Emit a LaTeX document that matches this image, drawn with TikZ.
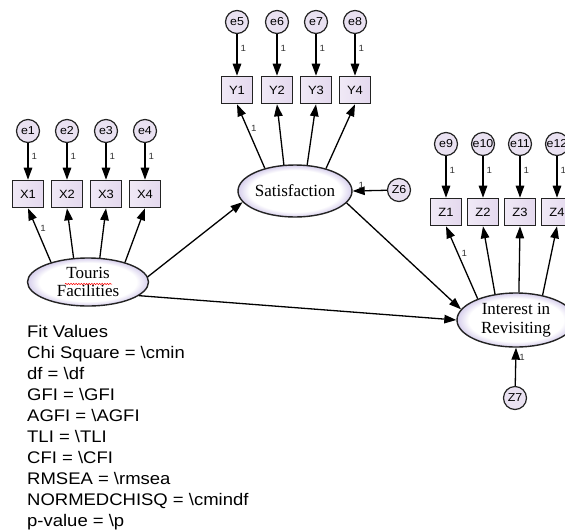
\documentclass[tikz,border=0pt]{standalone}
\usepackage{fontspec}
\setmainfont{Liberation Serif}
\newfontfamily\sansf[FakeStretch=1.08]{Liberation Sans}
\newfontfamily\fitf[FakeStretch=1.1]{Liberation Sans}
\usetikzlibrary{arrows.meta,shapes.geometric,decorations.pathmorphing}
\definecolor{lav}{RGB}{228,217,238}
\definecolor{lavlight}{RGB}{240,233,246}
\definecolor{rim}{RGB}{214,206,236}
\definecolor{bord}{RGB}{35,35,35}
\pgfdeclareradialshading{rimshade}{\pgfpoint{0bp}{0bp}}{color(0bp)=(white); color(20bp)=(white); color(25bp)=(rim); color(50bp)=(rim)}
\tikzset{
  obs/.style={draw=bord, line width=1.6pt, minimum width=31pt, minimum height=27pt, inner sep=0pt,
    left color=lavlight, right color=lav, font=\sansf\fontsize{12}{12}\selectfont},
  err/.style={circle, draw=bord, line width=1.2pt, minimum size=23pt, inner sep=0pt,
    fill=lav!80!white, font=\sansf\fontsize{11.5}{12}\selectfont},
  lat/.style={ellipse, draw=bord, line width=1.4pt, inner sep=0pt, shading=rimshade,
    align=center, font=\fontsize{17}{18.5}\selectfont},
  arr/.style={-{Triangle[length=12pt,width=8.5pt]}, line width=1.3pt},
  one/.style={font=\sansf\fontsize{9}{9}\selectfont, inner sep=0pt, text=black!80}
}
\begin{document}
\begin{tikzpicture}[x=1pt,y=-1pt]
\clip (0,0) rectangle (565,531);
\fill[white] (0,0) rectangle (565,531);
% latent variables
\node[lat, minimum width=121pt, minimum height=48pt] (T) at (88,282) {Touris\\Facilities};
\node[lat, minimum width=114pt, minimum height=52pt] (S) at (295,191) {Satisfaction};
\node[lat, minimum width=118pt, minimum height=54pt] (I) at (516,320) {Interest in\\Revisiting};
\draw[red, line width=0.5pt, decorate, decoration={snake, amplitude=0.7pt, segment length=2.6pt}] (65,284) -- (112,284);
% indicators of Touris
\foreach \i/\x in {1/28,2/67,3/106,4/145}{
  \node[err] (e\i) at (\x,131) {e\i};
  \node[obs] (X\i) at (\x,194) {X\i};
  \draw[arr] (e\i) -- (X\i) node[one, pos=0.35, right=3pt] {1};
}
\foreach \i/\x in {5/237,6/277,7/316,8/355}{
  \node[err] (e\i) at (\x,22) {e\i};
}
\foreach \i/\x in {1/237,2/277,3/316,4/355}{
  \node[obs] (Y\i) at (\x,90) {Y\i};
}
\foreach \i/\j in {5/1,6/2,7/3,8/4}{
  \draw[arr] (e\i) -- (Y\j) node[one, pos=0.35, right=3pt] {1};
}
\foreach \i/\x in {9/446,10/483,11/520,12/557}{
  \node[err] (e\i) at (\x,144) {e\i};
}
\foreach \i/\x in {1/446,2/483,3/520,4/557}{
  \node[obs] (Z\i) at (\x,212) {Z\i};
}
\foreach \i/\j in {9/1,10/2,11/3,12/4}{
  \draw[arr] (e\i) -- (Z\j) node[one, pos=0.35, right=3pt] {1};
}
% disturbances
\node[err] (Z6) at (399,190) {Z6};
\node[err] (Z7) at (515,398) {Z7};
\draw[arr] (Z6) -- (S.east) node[one, pos=0.75, above=2pt] {1};
\draw[arr] (Z7) -- (I.south) node[one, pos=0.75, right=3pt] {1};
% loadings
\draw[arr] (T.152) -- (X1.south) node[one, pos=0.62, right=3pt] {1};
\draw[arr] (T.121) -- (X2.south);
\draw[arr] (T.64) -- (X3.south);
\draw[arr] (T.28) -- (X4.south);
\draw[arr] (S.143) -- (Y1.south) node[one, pos=0.62, right=3pt] {1};
\draw[arr] (S.113) -- (Y2.south);
\draw[arr] (S.65) -- (Y3.south);
\draw[arr] (S.36) -- (Y4.south);
\draw[arr] (I.151) -- (Z1.south) node[one, pos=0.62, right=3pt] {1};
\draw[arr] (I.129) -- (Z2.south);
\draw[arr] (I.84) -- (Z3.south);
\draw[arr] (I.43) -- (Z4.south);
% structural paths
\draw[arr] (T.5) -- (S.192);
\draw[arr] (T.-15) -- (I.180);
\draw[arr] (S.-13) -- (I.169);
% fit values
\node[anchor=north west, inner sep=0pt, align=left, font=\fitf\fontsize{16.8}{21}\selectfont] (fit) at (27,325) {Fit Values\\
Chi Square = \textbackslash cmin\\
df = \textbackslash df\\
GFI = \textbackslash GFI\\
AGFI = \textbackslash AGFI\\
TLI = \textbackslash TLI\\
CFI = \textbackslash CFI\\
RMSEA = \textbackslash rmsea\\
NORMEDCHISQ = \textbackslash cmindf\\
p-value = \textbackslash p};
\end{tikzpicture}
\end{document}
